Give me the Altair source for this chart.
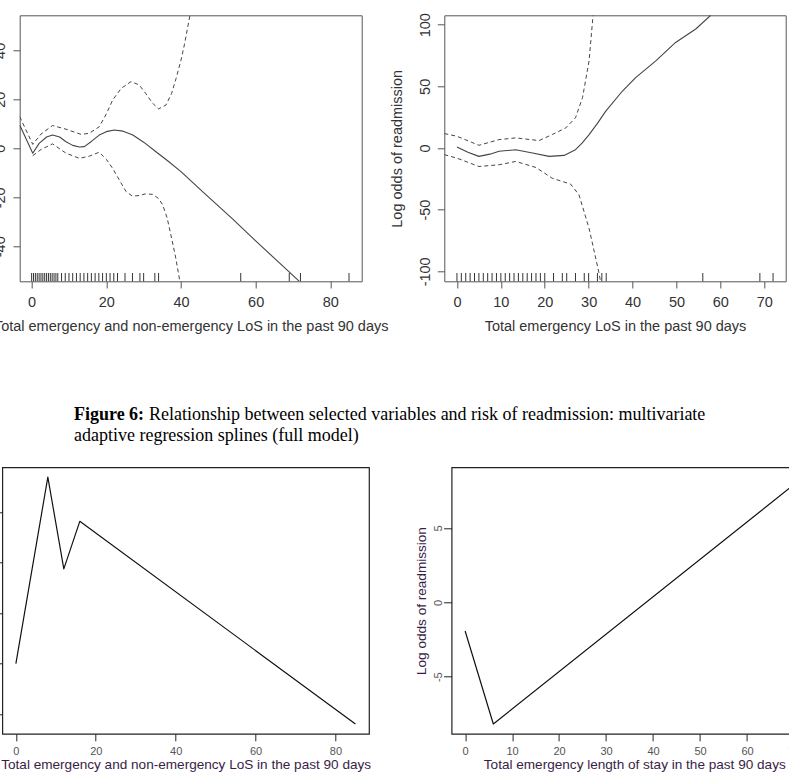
import altair as alt
import pandas as pd

# ---------------- data ----------------
# Top-left: GAM fit, total emergency + non-emergency LoS (lines end where they leave the frame)
tl_fit_x = [-3.2, 0.3, 2, 4, 5.6, 7.5, 9.2, 11, 12.8, 14.1, 16, 18.1, 20, 22.1, 24.5, 27.1, 30, 33.3, 36.5, 40, 46, 53.8, 60, 66, 71.7]
tl_fit_y = [9.5, -2.0, 2.0, 4.6, 5.4, 4.6, 2.7, 1.2, 0.5, 0.7, 2.8, 5.4, 6.8, 7.5, 7.0, 5.4, 2.5, -1.4, -5.2, -9.5, -18.0, -28.8, -37.8, -46.3, -54.3]
tl_up_x = [-3.2, 0.3, 2.5, 5.6, 9.2, 13.2, 15.4, 18.1, 20, 21.7, 24, 26.6, 28.8, 30.5, 32.4, 34, 36, 37.5, 38.7, 40, 40.9, 42.4]
tl_up_y = [12.9, 1.6, 5.8, 9.3, 7.8, 5.7, 6.1, 8.8, 14.0, 19.7, 24.5, 27.2, 25.9, 22.5, 18.4, 16.1, 17.7, 22.5, 28.6, 36.0, 42.2, 54.3]
tl_lo_x = [0.3, 2.5, 5.6, 9.2, 12.8, 15.5, 18.1, 20, 21.7, 23.5, 25.3, 27, 28.8, 30.5, 32.4, 34, 35.1, 36.3, 37.3, 38.5, 39.7]
tl_lo_y = [-3.0, -0.5, 1.8, -2.0, -4.1, -3.2, -1.6, -4.5, -8.2, -13.0, -17.7, -19.5, -19.3, -18.6, -18.8, -20.5, -23.1, -28.5, -35.4, -44.0, -54.3]
tl_rug = [0, 0.5, 1, 1.5, 2, 2.5, 3, 3.5, 4, 4.5, 5, 5.5, 6, 6.5, 7, 8, 9, 10, 11, 12, 13, 14, 15, 16, 17, 18, 19, 20,
          21, 22, 23, 25, 27, 29, 30, 33, 34, 56, 69, 72, 85]

# Top-right: GAM fit, total emergency LoS
tr_fit_x = [0, 2.5, 5, 7.5, 9.6, 13.4, 17.2, 21, 24.4, 27, 28.5, 30.1, 32, 33.9, 37.7, 40.7, 45.3, 49.8, 54.4, 57.8]
tr_fit_y = [0.8, -3.5, -6.8, -5.0, -2.7, -1.4, -4.1, -6.8, -6.0, -1.4, 4.0, 10.9, 20.0, 29.9, 46.2, 57.1, 70.7, 85.6, 96.5, 107.6]
tr_up_x = [-2.88, 0, 5, 9.6, 13.4, 18.7, 21.7, 24.8, 27, 28.6, 30.1, 31]
tr_up_y = [11.7, 9.5, 2.2, 6.8, 8.2, 6.0, 10.9, 16.3, 24.5, 40.8, 70.7, 107.6]
tr_lo_x = [-2.88, 0, 5, 9.6, 13.4, 18, 21.7, 25.9, 27.8, 30.1, 32.3, 32.7]
tr_lo_y = [-5.4, -8.2, -15.0, -13.6, -10.9, -15.8, -24.5, -29.3, -38.0, -65.2, -100.5, -108.1]
tr_rug = list(range(0, 21)) + [22, 24, 25, 27, 29, 30, 32, 33, 34, 56, 69, 72]

# Bottom-left: MARS, total emergency + non-emergency LoS
bl_x = [0, 8, 12, 16, 85]
bl_y = [-2.0, 5.38, 1.75, 3.63, -4.39]

# Bottom-right: MARS, total emergency length of stay
br_x = [0, 6, 72]
br_y = [-1.93, -8.18, 8.42]

# Caption
cap_bold = ["Figure 6:"]
cap_line1 = ["Relationship between selected variables and risk of readmission: multivariate"]
cap_line2 = ["adaptive regression splines (full model)"]

# Axis text
tl_xtitle = "Total emergency and non-emergency LoS in the past 90 days"
tr_xtitle = "Total emergency LoS in the past 90 days"
tr_ytitle = "Log odds of readmission"
bl_xtitle = "Total emergency and non-emergency LoS in the past 90 days"
br_xtitle = "Total emergency length of stay in the past 90 days"
br_ytitle = "Log odds of readmission"

# ---------------- helpers ----------------
TOP_TXT = "#333333"
TOP_LINE = "#444444"
BOT_LINE = "#111111"
BOT_LAB = "#555555"
BOT_TITLE = "#3a1e48"
SANS = "Liberation Sans"


def df(xs, ys):
    return pd.DataFrame({"x": xs, "y": ys})


def line_layer(data, X, Y, color, width, dash=None):
    kw = dict(clip=True, color=color, strokeWidth=width, strokeJoin="round")
    if dash is not None:
        kw["strokeDash"] = dash
    return alt.Chart(data).mark_line(**kw).encode(x=X, y=Y)


def top_x_axis(values, title):
    return alt.Axis(values=values, title=title, grid=False, domain=False,
                    tickSize=6.7, tickColor="#555555", labelColor=TOP_TXT, titleColor=TOP_TXT,
                    labelFontSize=14.5, titleFontSize=14.5, labelPadding=7.7, titlePadding=10.1,
                    labelFlush=False, labelOverlap=False, labelExpr="'' + datum.value")


# ---------------- top-left panel ----------------
TL_W, TL_H = 342, 266
tl_X = alt.X("x:Q", scale=alt.Scale(domain=[-3.2, 88.4], nice=False, zero=False),
             axis=top_x_axis([0, 20, 40, 60, 80], tl_xtitle))
tl_Y = alt.Y("y:Q", scale=alt.Scale(domain=[-54.3, 54.3], nice=False, zero=False),
             axis=alt.Axis(values=[-40, -20, 0, 20, 40], title=None, grid=False, domain=False,
                           tickSize=6.7, tickColor="#555555", labelColor=TOP_TXT,
                           labelFontSize=14.5, labelAngle=270, labelAlign="center",
                           labelBaseline="bottom", labelPadding=6,
                           labelFlush=False, labelOverlap=False, labelExpr="'' + datum.value"))
tl_rug_chart = alt.Chart(pd.DataFrame({"x": tl_rug})).mark_rule(color="#333333", strokeWidth=1).encode(
    x=tl_X, y=alt.value(TL_H - 8.3), y2=alt.value(TL_H))
tl = alt.layer(
    line_layer(df(tl_fit_x, tl_fit_y), tl_X, tl_Y, TOP_LINE, 1.1),
    line_layer(df(tl_up_x, tl_up_y), tl_X, tl_Y, TOP_LINE, 1, [4, 3]),
    line_layer(df(tl_lo_x, tl_lo_y), tl_X, tl_Y, TOP_LINE, 1, [4, 3]),
    tl_rug_chart,
).properties(width=TL_W, height=TL_H, view=alt.ViewBackground(stroke="#555555", strokeWidth=1))

# ---------------- top-right panel ----------------
TR_W, TR_H = 341.4, 266
tr_X = alt.X("x:Q", scale=alt.Scale(domain=[-2.88, 74.88], nice=False, zero=False),
             axis=top_x_axis([0, 10, 20, 30, 40, 50, 60, 70], tr_xtitle))
tr_Y = alt.Y("y:Q", scale=alt.Scale(domain=[-108.1, 107.6], nice=False, zero=False),
             axis=alt.Axis(values=[-100, -50, 0, 50, 100], title=tr_ytitle, grid=False, domain=False,
                           tickSize=7, tickColor="#555555", labelColor=TOP_TXT, titleColor=TOP_TXT,
                           labelFontSize=14.5, titleFontSize=14.5, labelAngle=270, labelAlign="center",
                           labelBaseline="bottom", labelPadding=4.6, titlePadding=13,
                           labelFlush=False, labelOverlap=False, labelExpr="'' + datum.value"))
tr_rug_chart = alt.Chart(pd.DataFrame({"x": tr_rug})).mark_rule(color="#333333", strokeWidth=1).encode(
    x=tr_X, y=alt.value(TR_H - 8.3), y2=alt.value(TR_H))
tr = alt.layer(
    line_layer(df(tr_fit_x, tr_fit_y), tr_X, tr_Y, TOP_LINE, 1.1),
    line_layer(df(tr_up_x, tr_up_y), tr_X, tr_Y, TOP_LINE, 1, [4, 3]),
    line_layer(df(tr_lo_x, tr_lo_y), tr_X, tr_Y, TOP_LINE, 1, [4, 3]),
    tr_rug_chart,
).properties(width=TR_W, height=TR_H, view=alt.ViewBackground(stroke="#555555", strokeWidth=1))


def bot_x_axis(values, title):
    return alt.Axis(values=values, title=title, grid=False, domain=False,
                    tickSize=7, tickColor="#222222", labelColor=BOT_LAB, titleColor=BOT_TITLE,
                    labelFontSize=11, titleFontSize=13.6, labelPadding=4.7, titlePadding=1,
                    labelFlush=False, labelOverlap=False, labelExpr="'' + datum.value")


# ---------------- bottom-left panel ----------------
BL_W, BL_H = 366.7, 266.5
bl_X = alt.X("x:Q", scale=alt.Scale(domain=[-3.4, 88.4], nice=False, zero=False),
             axis=bot_x_axis([0, 20, 40, 60, 80], bl_xtitle))
bl_Y = alt.Y("y:Q", scale=alt.Scale(domain=[-4.78, 5.77], nice=False, zero=False),
             axis=alt.Axis(values=[-4, -2, 0, 2, 4], title=None, grid=False, domain=False,
                           labels=False, tickSize=9.8, tickColor="#222222"))
bl = alt.layer(
    line_layer(df(bl_x, bl_y), bl_X, bl_Y, BOT_LINE, 1.2),
).properties(width=BL_W, height=BL_H, view=alt.ViewBackground(stroke="#222222", strokeWidth=1.2))

# ---------------- bottom-right panel ----------------
BR_W, BR_H = 365.3, 266.5
br_X = alt.X("x:Q", scale=alt.Scale(domain=[-2.88, 74.88], nice=False, zero=False),
             axis=bot_x_axis([0, 10, 20, 30, 40, 50, 60, 70], br_xtitle))
br_Y = alt.Y("y:Q", scale=alt.Scale(domain=[-8.84, 9.08], nice=False, zero=False),
             axis=alt.Axis(values=[-5, 0, 5], title=br_ytitle, grid=False, domain=False,
                           tickSize=8, tickColor="#222222", labelColor=BOT_LAB, titleColor=BOT_TITLE,
                           labelFontSize=11, titleFontSize=13.6, labelAngle=270, labelAlign="center",
                           labelBaseline="bottom", labelPadding=0.2, titlePadding=3.7,
                           labelFlush=False, labelOverlap=False, labelExpr="'' + datum.value"))
br = alt.layer(
    line_layer(df(br_x, br_y), br_X, br_Y, BOT_LINE, 1.2),
).properties(width=BR_W, height=BR_H, view=alt.ViewBackground(stroke="#222222", strokeWidth=1.2))

# ---------------- caption ----------------
CAP_H = 112.3
serif = "Liberation Serif"
caption = alt.layer(
    alt.Chart(pd.DataFrame({"t": cap_bold})).mark_text(
        font=serif, fontSize=18, fontWeight="bold", align="left", baseline="alphabetic", color="black"
    ).encode(text="t:N", x=alt.value(71.7), y=alt.value(76.5)),
    alt.Chart(pd.DataFrame({"t": cap_line1})).mark_text(
        font=serif, fontSize=18, align="left", baseline="alphabetic", color="black"
    ).encode(text="t:N", x=alt.value(146.7), y=alt.value(76.5)),
    alt.Chart(pd.DataFrame({"t": cap_line2})).mark_text(
        font=serif, fontSize=18, align="left", baseline="alphabetic", color="black"
    ).encode(text="t:N", x=alt.value(71.7), y=alt.value(98.2)),
).properties(width=700, height=CAP_H)

# invisible spacer that shifts the top row right of the bottom row
spacer = alt.Chart(pd.DataFrame({"t": [""]})).mark_text().encode(text="t:N").properties(width=10, height=10)

row1 = alt.hconcat(spacer, alt.hconcat(tl, tr, spacing=82.6, bounds="flush"), spacing=7.4, bounds="flush")
row2 = alt.hconcat(bl, br, spacing=82.3, bounds="flush")

chart = alt.vconcat(row1, caption, row2, spacing=10).properties(
    padding={"left": -8.7, "top": 11.3, "right": -29, "bottom": 2},
    background="white",
).configure_view(stroke=None).configure_axis(
    labelFont=SANS, titleFont=SANS, titleFontWeight="normal"
)

chart.save("out.html", embed_options={"renderer": "svg", "actions": False})
